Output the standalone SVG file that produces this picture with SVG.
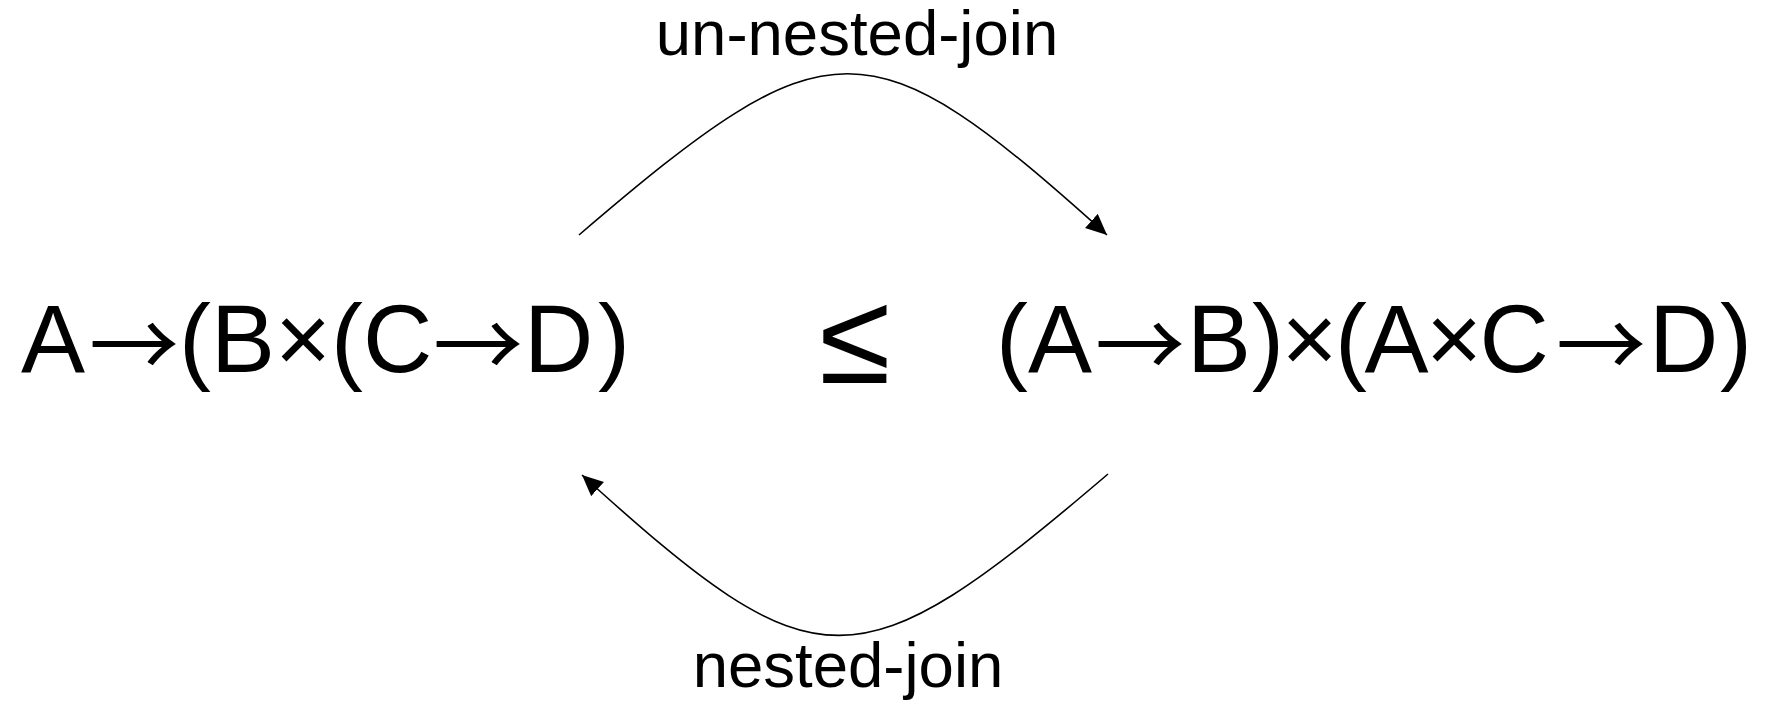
<svg xmlns="http://www.w3.org/2000/svg" width="1766" height="702" viewBox="0 0 1766 702">
<style>
.expr{font-family:"Liberation Sans",Arial,sans-serif;font-size:96px;fill:#000}
.arr{font-family:"Noto Sans CJK SC","Liberation Sans",sans-serif;font-size:90px}
.tight{letter-spacing:-2.5px}
.lbl{font-family:"Liberation Sans",Arial,sans-serif;font-size:63.5px;fill:#000;text-anchor:middle}
.rel{font-family:"Liberation Sans",Arial,sans-serif;font-size:130px;fill:#000;text-anchor:middle}
.conn{fill:none;stroke:#000;stroke-width:1.6}
</style>
<defs>
<marker id="ah" markerUnits="userSpaceOnUse" markerWidth="22" markerHeight="20" refX="21" refY="9.5" orient="auto">
<path d="M0,0 L21,9.5 L0,19 z" fill="#000"/>
</marker>
</defs>
<rect width="1766" height="702" fill="#fff"/>
<g id="left-expr"><text class="expr" x="21" y="372">A<tspan class="arr" x="89" y="378">→</tspan><tspan x="179" y="372">(B×</tspan><tspan x="331">(C</tspan><tspan class="arr" x="433" y="378">→</tspan><tspan x="524" y="372">D</tspan><tspan x="598">)</tspan></text></g>
<g id="relation"><text class="rel" x="855" y="383">≤</text></g>
<g id="right-expr"><text class="expr" x="996" y="372">(A<tspan class="arr" x="1095" y="378">→</tspan><tspan x="1187" y="372">B</tspan><tspan class="tight" x="1252">)×(A×C</tspan><tspan class="arr" x="1556" y="378">→</tspan><tspan x="1649" y="372">D</tspan><tspan x="1720">)</tspan></text></g>
<g id="connectors">
<path class="conn" d="M579,235 C830,20 868,20 1107,235" marker-end="url(#ah)"/>
<path class="conn" d="M1108,474 C856,689 818,689 582,475" marker-end="url(#ah)"/>
</g>
<g id="labels">
<text class="lbl" x="857" y="55">un-nested-join</text>
<text class="lbl" x="848" y="687">nested-join</text>
</g>
</svg>
